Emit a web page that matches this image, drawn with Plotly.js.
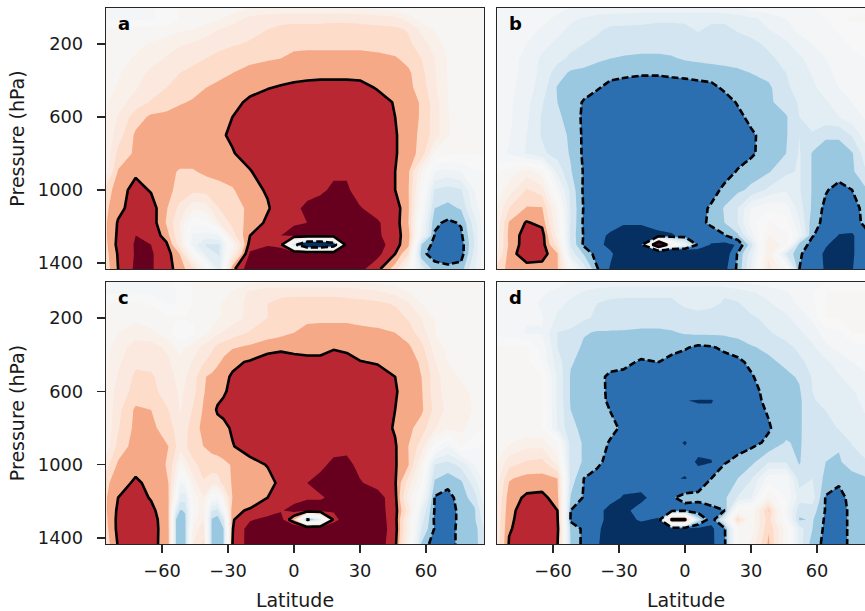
<!DOCTYPE html>
<html><head><meta charset="utf-8">
<script src="https://cdn.plot.ly/plotly-3.0.1.min.js"></script>
<style>html,body{margin:0;padding:0;background:#fff;overflow:hidden;width:865px;height:611px}</style>
</head><body><div id="chart"></div>
<script>
const latitudes=[-85.5,-80,-72,-65,-58,-52,-46,-40,-34,-28,-20,-12,-6,0,6,12,18,24,30,38,46,52,58,64,70,76,82,86.4];
const latitudesC=[-85.5,-80,-72,-65,-57.1,-53.6,-51.7,-49.5,-45.8,-41.2,-37.4,-34.8,-32.1,-28,-20,-12,-6,0,6,12,18,24,30,38,46,52,58,64,70,76,82,86.4];
const pressures=[3,60,120,200,280,360,440,520,600,700,800,900,1000,1100,1180,1250,1300,1350,1433];
const pressuresD=[3,60,120,200,280,360,440,520,600,650,800,880,985,1075,1180,1250,1300,1350,1433];
const xTicks=[-60,-30,0,30,60];
const yTicks=[200,600,1000,1400];
const panelLetters=['a','b','c','d'];
const bandColors=['#053061','#2b6fb0','#9ac8e0','#d3e5f0','#e3eef4','#ecf2f5','#f3f5f6','#f7f7f7','#f7f5f3','#f9f0ea','#fbe8de','#fddcc9','#f5a986','#b92732','#67001f'];
const panelA=[
[-.5,-.6,-.6,-.6,0,.6,.6,.6,.8,1,1.5,1.5,1.6,1.6,1.6,1.6,1.6,1.6,1.5,1.2,1,.8,.7,.6,.6,.6,.6,.6],
[-.6,-.7,-.7,-.6,-.3,.6,.8,1,1.4,2,2.8,3.1,3.2,3.2,3.2,3.2,3.3,3.3,3.2,3,2.8,2,1,.7,.6,.6,.6,.6],
[.6,.7,.8,.9,1,1.3,1.5,2,2.5,2.9,3.2,3.5,3.7,3.8,3.8,3.8,3.8,3.8,3.8,3.8,3.7,3.4,2.2,1.4,.8,.6,.6,.6],
[1,1,1.3,1.6,2,2.4,2.6,2.9,3.2,3.4,3.6,3.8,4,4.2,4.2,4.2,4.2,4.2,4.2,4.1,4,3.7,3,2,1.2,.8,.6,.5],
[1,1.2,1.6,2,2.6,3,3.2,3.5,3.8,4,4.2,4.4,4.5,4.8,4.9,4.9,4.9,4.9,4.9,4.8,4.6,4.2,3.5,2.5,1.4,.8,.6,.5],
[1,1.4,2,2.8,3.2,3.5,3.8,4,4.3,4.5,4.9,5,5,5,5.1,5.1,5.1,5.1,5.1,5,4.9,4.7,3.8,2.6,1.4,.8,.6,.5],
[1.2,1.6,2.4,3,3.5,3.9,4.2,4.5,4.7,4.9,5.2,5.45,5.6,5.8,5.9,6,6,6,5.9,5.4,5.3,4.8,4,2.7,1.5,.8,.6,.5],
[1.4,2,3,3.6,4,4.4,4.6,4.8,5,5.2,5.7,6,6.1,6.2,6.2,6.2,6.2,6.2,6.2,6,5.4,4.9,4.4,3,1.5,.8,.6,.5],
[1.6,2.6,4,4.7,4.8,4.9,5,5.1,5.3,5.5,5.8,6,6,6.1,6.1,6.1,6.1,6.1,6.1,6,5.5,4.9,4.4,3,1.6,.8,.6,.5],
[1.7,3,4.7,4.9,5,5.1,5.2,5.3,5.4,5.6,5.9,6,6,6.1,6.1,6.1,6.1,6.1,6.1,6,5.6,4.9,4.3,3,1.6,.8,.6,.5],
[1.8,3.8,4.7,5,5.1,5,5,5.1,5.3,5.45,5.8,6,6,6.1,6.1,6.1,6.1,6.1,6.1,6,5.6,4.9,4.2,1.2,.7,.6,.6,.5],
[2,4.6,5.3,5.3,4.8,4.4,4.4,4.7,4.8,5,5.45,5.9,6,6.2,6.3,6.3,6.3,6.4,6.4,6.1,5.5,4.7,1.5,-1.5,-1.8,-1.5,-.7,-.4],
[4,5,5.9,5.4,4.8,4.2,3.8,3.9,4.2,4.4,5.2,5.6,6,6.1,6.2,6.3,6.7,6.6,6.2,6,5.5,4.6,.8,-3.6,-3.9,-3.6,-1.5,-.8],
[4.3,5.2,6,6,4.6,3.2,1.8,2,3.5,4.1,4.7,5.4,6,6.3,6.7,7,7.2,7.2,6.55,6.2,6,4.7,0,-4.5,-4.8,-4.4,-2,-.8],
[4.4,5.6,6.2,6.1,4.4,2.5,-.3,0,2.5,3.8,4.9,5.7,6.1,6.3,6.5,7.1,7.3,7.3,7.1,6.6,6,4.5,-1,-5.3,-5.7,-5.4,-3,-.8],
[4.4,5.7,6.5,6.3,5,2.6,-1.7,-2,-1.5,3,5.5,6,6.5,7.2,7.2,7.2,7.1,7.1,7.1,6.7,5.8,5.1,-1.5,-5.6,-6,-5.7,-3.4,-.8],
[4.3,5.8,6.6,6.5,5.7,3,-2,-3.6,-3.6,1,6,6.4,6.2,-4,-12,-12,-9,7.5,7.2,7,5.9,4.8,-4.5,-5.9,-6.2,-6,-3.5,-.8],
[4.2,5.6,6.6,6.6,6,4.5,.6,-3,-3.6,2,6.7,7.1,7.1,9,10,10,9,7.2,7.1,6.8,5.5,3.5,-5.2,-6,-6.2,-6,-3.2,-.8],
[4,5.5,6.7,6.6,6,5,3.8,1,-3,5.2,7.2,7.2,7.2,7.2,7.2,7.2,7.2,7.2,6.8,5.8,4,1,-3,-5,-5.2,-5,-2.6,-.8]
];
const panelB=[
[-.6,-.6,-.8,-1,-1.2,-1.5,-1.6,-1.7,-1.8,-1.8,-1.9,-1.9,-1.9,-1.9,-1.9,-1.9,-1.7,-1.5,-1,-.8,-.7,-.6,-.5,-.3,-.2,-.2,0,.1],
[-.7,-.8,-1,-1.2,-1.7,-2.3,-2.6,-2.9,-3,-3.1,-3.2,-3.3,-3.3,-3.3,-3.3,-3.3,-3.3,-3,-2.7,-2.2,-1.5,-1,-.8,-.5,.3,.7,.8,.8],
[-.8,-.9,-1.2,-1.6,-2.2,-2.7,-3,-3.3,-3.7,-3.7,-3.7,-3.8,-3.8,-3.7,-3.4,-3.7,-3.7,-3.4,-3.1,-2.5,-1.9,-1.2,-1,-.7,-.4,-.2,.1,.2],
[-.8,-1,-1.5,-2.2,-2.7,-3.2,-3.5,-3.8,-4,-4.1,-4.1,-4.1,-4.1,-4.1,-3.9,-3.9,-3.9,-3.9,-3.8,-3.3,-2.7,-2,-1.5,-1,-.7,-.4,-.2,-.1],
[-.8,-1.1,-1.8,-2.7,-3.2,-3.7,-4,-4.3,-4.5,-4.6,-4.7,-4.7,-4.6,-4.4,-4.3,-4.2,-4.1,-4.1,-4,-3.7,-3.2,-2.7,-2,-1.5,-1,-.7,-.5,-.4],
[-.8,-1.1,-1.9,-2.8,-4,-4.7,-4.8,-5,-5.2,-5.3,-5.4,-5.4,-5.3,-5.2,-5.1,-5,-4.9,-4.7,-4.5,-4.2,-3.5,-3,-2.4,-1.8,-1.2,-.9,-.7,-.6],
[-.9,-1.2,-2,-3,-4.6,-4.9,-5.1,-5.4,-5.8,-5.9,-6,-6,-6,-6,-5.9,-5.8,-5.3,-5.2,-5,-4.7,-3.7,-3.1,-2.7,-2.1,-1.5,-1.1,-.9,-.8],
[-.9,-1.3,-2.2,-3.4,-4.5,-5,-5.6,-6,-6.1,-6.1,-6.1,-6.1,-6.1,-6.1,-6.1,-6.1,-6,-5.4,-5,-4.7,-4,-3.4,-3,-2.6,-2.1,-1.5,-1.1,-1],
[-1,-1.3,-2.3,-3.6,-4.3,-4.9,-5.7,-6,-6.1,-6.1,-6.1,-6.1,-6.1,-6.1,-6.1,-6.1,-6,-5.8,-5.2,-4.9,-4.6,-3.5,-3.1,-2.8,-2.5,-1.9,-1.4,-1.3],
[-1.1,-1.4,-2.5,-3.6,-4,-4.7,-5.7,-6,-6.1,-6.1,-6.1,-6.1,-6.1,-6.1,-6.1,-6.1,-6.1,-6,-5.7,-5,-4.6,-3.5,-3.6,-4.4,-4.4,-3.4,-2,-1.6],
[-1.1,-1.6,-2.6,-3.3,-3.9,-4.6,-5.7,-6,-6.1,-6.1,-6.1,-6.1,-6.1,-6.1,-6.1,-6.1,-6.1,-6,-5.7,-4.9,-4.5,-3.4,-4.6,-4.8,-4.8,-4.6,-3,-2],
[.4,1,2,1,-2.8,-4.4,-5.6,-6,-6.1,-6.1,-6.1,-6.1,-6.1,-6.1,-6.1,-6.1,-6,-5.4,-4.9,-4.6,-3.7,-3.4,-4.6,-4.9,-5,-4.7,-3.6,-2.6],
[1,2,3.6,3,-1,-3.8,-5.7,-6,-6.1,-6.1,-6.1,-6.1,-6.1,-6.1,-6.1,-6,-5.2,-4.7,-4.3,-3.3,-2.6,-3.4,-4.6,-5.4,-5.9,-5.5,-4.7,-3],
[1.5,3.5,4.6,4.6,1,-3.6,-5.6,-6,-6.1,-6.1,-6.1,-6.1,-6.1,-6.1,-6,-5.3,-4.4,-3.5,-1.5,-.6,-1,-3,-4.7,-5.8,-6.1,-5.9,-5.2,-3.5],
[1.8,4.6,5.6,5.2,1.5,-3.6,-5.7,-6,-6,-6.4,-6.4,-6.2,-6.1,-6,-5.8,-5.3,-4.5,-3.5,-1,.6,0,-2.4,-5.1,-5.8,-6.1,-6.1,-5.2,-4],
[2,4.8,6,6,2,-3.8,-5.6,-6.1,-6.7,-7,-7,-6.7,-6.6,-6.2,-6,-6,-5.6,-4.7,-2,1.5,.8,-1.6,-5.45,-5.9,-6.55,-6.6,-6,-4.5],
[2,4.7,6.1,6,3,-3.6,-5.7,-6.2,-6.8,-7,-6.5,12,2,-2,-5.8,-6.6,-6.8,-6.4,-4,2.5,1,-5,-5.8,-6.4,-6.9,-6.6,-6,-5],
[2.2,5,6.2,6,4.6,-3,-4.6,-6,-6.3,-7.2,-12,-14,-14,-10,-7.3,-7.3,-7.2,-5.4,-3,2.2,-3.5,-5.4,-5.9,-6.7,-7,-6.6,-6,-5],
[3.9,4.8,5,5,4.6,.5,-3,-5.4,-6.6,-7.2,-7.2,-7.2,-7.2,-7.2,-7.2,-7.2,-6.8,-5.3,-2.5,3,.5,-5.5,-6,-6.6,-7,-6.55,-5.8,-5]
];
const panelC=[
[-.6,-.6,-.7,-.8,-.7,-.2,0,.2,.6,.6,.65,.7,.8,1,1.4,1.6,1.6,1.6,1.6,1.6,1.6,1.6,1.5,1.3,1,.8,.7,.6,.6,.6,.6,.6],
[-.6,-.7,-.8,-.8,-.8,-.5,-.3,0,.6,.7,.8,1,1.2,1.6,2.7,3.2,3.3,3.3,3.3,3.3,3.3,3.2,3,2.7,2.2,1.6,1,.7,.6,.6,.6,.6],
[.5,.6,.6,.4,-.5,-.5,-.4,0,.6,.8,1,1.3,1.6,2,2.8,3.5,3.7,3.8,3.8,3.8,3.8,3.8,3.8,3.7,3.4,2.6,1.5,.9,.6,.6,.6,.5],
[.9,1,1.3,1,.7,.6,.6,.6,.7,1,1.2,1.4,1.6,2,2.8,3.5,3.9,4.2,4.3,4.3,4.3,4.3,4.2,4.1,3.9,3.4,2.5,1.5,.8,.7,.6,.6],
[1,1.5,2,1.7,.9,-.3,-.5,-.4,.2,1.2,1.8,2.3,2.6,3,3.6,3.9,4.2,4.5,4.8,4.9,4.9,4.9,4.8,4.7,4.5,4,3,1.6,.8,.7,.6,.6],
[1.2,2,3,3,2.2,1.5,1.3,1.5,2,2.8,3.3,3.8,4.1,4.4,4.7,5.2,5.3,5.1,5,5,5.4,5.2,5,5,4.8,4.7,3.8,2.1,1.2,1,1,.6],
[1.3,2.3,3.3,3.3,2.7,1.9,1.7,2,2.6,3.4,3.9,4.3,4.7,5.3,5.6,5.9,6,6,5.9,5.9,6,6,5.55,5.4,5.1,4.8,4.4,2.6,1.5,1.2,1,.6],
[1.4,2.6,3.7,3.6,3.1,2.3,2,2.4,3,4.4,4.7,5,5.3,5.6,6,6,6.1,6.1,6.1,6.1,6.1,6.1,6.1,6,5.5,5,4.5,3,1.8,1.4,1.1,.7],
[1.5,3,3.8,3.7,3.2,2.6,2.3,2.6,3.2,4.4,5,5.2,5.4,5.7,6,6.1,6.1,6.1,6.1,6.1,6.1,6.1,6.1,6,5.6,5,4.6,3,2,1.9,1.2,.7],
[1.6,3.2,4.7,4.5,3.5,2.8,2.4,2.9,3.6,4.6,5.2,5.6,5.7,5.9,6,6.1,6.1,6.1,6.1,6.1,6.1,6.1,6.1,6,5.5,5,4.7,3.2,2.2,2.4,1.3,.7],
[1.7,3.4,4.8,4.7,4.1,3.2,3,3.2,4,4.8,5,5.2,5.3,5.6,6,6.1,6.1,6.1,6.1,6.1,6.1,6.1,6.1,6,5.4,4.8,4,2.6,1.7,1.8,1,.5],
[2,3.8,5,5,4.5,3.5,3,3.3,4.2,4.5,4.9,5,5.2,5.45,5.9,6,6.1,6.1,6.1,6.1,6.2,6.2,6.2,6,5.6,4.5,3,0,-1.5,.6,-.4,-.6],
[3,4.7,5.1,5,4.4,2.5,1,2,3.2,3.9,3.9,4,4.2,4.6,5.2,5.55,5.9,6,6.1,6.3,6.7,6.8,6.2,6,5.6,4.6,1.5,-3.5,-3.9,-3.2,-1.5,-1],
[4.3,5,5.7,5.2,4.5,1.5,-1.5,-1,2,3.4,3,3,3.8,4.6,5,5.2,5.7,6,6.5,6.8,7,6.9,6.6,6.1,5.6,3,.5,-4.7,-5.2,-4.7,-3,-1.5],
[4.4,5.5,6,5.4,4.6,0,-3,-3,.8,2.5,-.6,-1,1.5,4.5,5,5.5,6,6.1,6.4,6.4,6.7,6.7,6.8,7,5.8,2,-.5,-5.6,-5.9,-5,-4,-2],
[4.4,5.7,6.2,5.8,4.6,-3,-4.6,-4.4,.8,2,-3.4,-3.8,-1,5.3,5.6,6,6.4,6.9,7,7,6.7,6.9,6.9,7,5.9,3,-2.5,-5.6,-6,-5.2,-4.7,-2.6],
[4.3,5.8,6.2,6,4.7,-4.6,-5,-4.7,1,2.5,-4.6,-5,-3.6,5.4,6.4,6.8,7,4.5,-6,-3,5.8,7.6,7.1,7.1,5.9,2,-3,-5.7,-6,-5.2,-4.7,-3],
[4.2,5.8,6.1,6,4.8,-4.6,-5,-4.8,2,3,-4.7,-5,-4.6,5.45,7,7.1,7.3,8,8.5,8.5,8,7.3,7.2,7.1,6,2,-3.5,-5.6,-5.9,-5.2,-5,-3.5],
[4,5.6,6,5.9,4.9,-4.6,-5.1,-4.8,2.5,3.7,-4.7,-5,-4.6,5.5,7,7.1,7.1,7.1,7.1,7.1,7.1,7.1,7.1,7.1,5.8,1.5,-4.6,-6.2,-5.9,-5.2,-4.8,-4]
];
const panelD=[
[-.6,-.6,-.7,-.8,-1,-1.5,-1.7,-1.8,-1.9,-1.9,-1.9,-1.9,-1.9,-1.9,-1.9,-1.9,-1.7,-1.5,-1.2,-.8,-.7,-.6,-.5,-.5,-.5,-.5,-.5,-.5],
[-.7,-.7,-.8,-1.3,-1.9,-2.2,-2.6,-3,-3.2,-3.3,-3.3,-3.3,-3.3,-3.4,-3.3,-3.4,-3.4,-3,-2.6,-2.2,-1.6,-1,-.6,.5,.6,.6,.6,.6],
[-.8,-.8,-1,-1.7,-2.2,-2.7,-3,-3.5,-3.7,-3.7,-3.7,-3.7,-3.7,-3.3,-3.1,-3.3,-3.6,-3.6,-3,-2.6,-2,-1.3,-.7,.5,.6,.6,.6,.6],
[-.8,-.9,-1.4,-1.4,-2.7,-3,-3.3,-3.7,-3.9,-4,-4,-4,-4,-4,-3.9,-3.9,-3.8,-3.8,-3.7,-3.2,-2.7,-2,-1.3,.5,.6,.6,.6,.6],
[-.8,-1,-1.6,-1.6,-3.5,-3.7,-4.4,-4.6,-4.6,-4.6,-4.7,-4.7,-4.6,-4.4,-4.3,-4.3,-4.3,-4.1,-3.9,-3.6,-3.1,-2.7,-2,-1,-.6,.5,.6,.6],
[.6,.7,.7,-.8,-3.5,-4,-4.7,-4.8,-4.9,-5,-5.1,-5.2,-5.3,-5.4,-5.7,-5.6,-5.3,-5.1,-4.6,-4.3,-3.8,-3.3,-2.7,-1.7,-1.2,-1,-.8,-.7],
[.6,.8,.8,-.6,-3,-4.4,-4.8,-5,-5.1,-5.3,-5.6,-5.5,-5.7,-6,-6,-6,-5.9,-5.7,-5.3,-4.7,-4.3,-3.7,-3.2,-2.7,-2,-1.5,-1.1,-.9],
[.6,.9,1.2,.5,-2.7,-4.6,-4.8,-5.2,-5.7,-5.7,-5.8,-6,-6,-6,-6,-6,-6,-6,-5.6,-5,-4.7,-4.4,-3.4,-3,-2.6,-2,-1.7,-1.4],
[.6,.9,1.2,.6,-2.7,-4.6,-4.8,-5,-5.8,-6,-6,-6,-6,-6,-6,-6,-6,-6,-5.7,-5.3,-4.8,-4.6,-3.5,-3.1,-2.9,-2.6,-2.1,-1.8],
[.6,.8,1,.6,-2.7,-4.6,-4.8,-5.1,-5.7,-6,-6,-6.1,-6.2,-6.48,-6.55,-6.55,-6.2,-6.1,-5.8,-5.3,-4.9,-4.7,-3.6,-3.2,-3,-2.7,-2.3,-1.9],
[.5,.6,.7,.5,-2.5,-4.3,-4.7,-5,-5.2,-5.7,-6,-6,-6.1,-6.1,-6.1,-6.1,-6.1,-6.1,-6,-5.6,-4.9,-4.7,-3.6,-4,-3.4,-3,-2.7,-2.3],
[1,1.4,2,2,.6,-4,-4.6,-5,-5.6,-6,-6.1,-6.2,-6.3,-6.55,-6.2,-6.1,-6,-6,-5.8,-5.3,-4.4,-4.7,-3.5,-4.2,-4.4,-3.4,-3,-2.8],
[1.5,3,3.6,3.8,2,-4,-4.6,-5.3,-5.8,-6,-6.1,-6.1,-6.1,-6.2,-6.6,-6.55,-5.6,-5.2,-4.8,-3.6,-3.6,-4.6,-3.5,-4.5,-4.6,-4.1,-3.6,-3.3],
[2,4.4,4.8,4.8,4.5,-3.9,-5.5,-5.8,-6,-6,-6,-6.1,-6.4,-6.55,-6.2,-5.5,-4.8,-4.5,-3.6,-1,-.8,-4,-3.5,-4.8,-5.3,-4.8,-4.6,-3.9],
[2.5,5,5.7,5.8,5,-4.6,-5.6,-5.9,-6.1,-6.6,-6.7,-6.1,-5.6,-5.2,-5.2,-5,-4.7,-3.4,-2.6,1.5,-.5,-3,-3,-5.6,-5.8,-5.2,-4.7,-4],
[2.6,5.2,6,6,5.5,-5.5,-5.7,-6.1,-6.9,-6.7,-6.2,-6.1,-6.2,-5.9,-6.1,-5.8,-5.5,.6,.6,4.6,-1,-4.2,-4,-5.6,-6,-5.2,-4.7,-4],
[2.7,5.3,6,6,5.7,-5.7,-6,-6,-7,-6.8,-6.4,-6.6,6.3,6.2,-4,-6.2,-3,4,.8,4,-.5,-4.6,-4.4,-5.7,-6,-5.2,-4.8,-4.2],
[2.8,5.4,6,6.1,6,-4.9,-5.7,-6.3,-7,-6.9,-6.9,-7,-7,-7,-6.8,-6.7,-5.7,.6,.7,4.4,1,-3,-4.5,-5.8,-6,-5.2,-4.7,-4.4],
[2.9,5.6,6.4,6,5.6,-4.6,-5.8,-6.4,-7,-7,-7,-7,-7,-7,-7,-6.7,-5.8,.7,1.7,4.7,.8,-3,-5,-5.8,-6,-5.2,-4.6,-4.4]
];
const W=880,H=611;
const sides=[[106,484],[497,875]], heights=[[8,269],[282,544]];
const colorscale=bandColors.map((c,i)=>[i/(bandColors.length-1),c]);
const panels=[[panelA,pressures,latitudes],[panelB,pressures,latitudes],[panelC,pressures,latitudesC],[panelD,pressuresD,latitudes]];
const traces=[];
panels.forEach(([z,ys,xs],i)=>{
  const ax=i?String(i+1):'';
  const base={x:xs,y:ys,z:z,xaxis:'x'+ax,yaxis:'y'+ax,hoverinfo:'skip',showscale:false,type:'contour',autocontour:false};
  traces.push(Object.assign({},base,{colorscale:colorscale,zmin:-7,zmax:7,
    contours:{coloring:'fill',start:-6.5,end:6.5,size:1,showlines:false},line:{width:0,smoothing:0}}));
  traces.push(Object.assign({},base,{contours:{coloring:'none',start:5.5,end:5.5,size:1},line:{color:'#000',width:2.6,smoothing:0,dash:'solid'}}));
  traces.push(Object.assign({},base,{contours:{coloring:'none',start:-5.5,end:-5.5,size:1},line:{color:'#000',width:2.6,smoothing:0,dash:'7px,3px'}}));
});
const FS=17.8,TS=19;
const layout={width:W,height:H,margin:{l:0,r:0,t:0,b:0},paper_bgcolor:'#fff',plot_bgcolor:'#fff',showlegend:false,
  font:{family:'DejaVu Sans, sans-serif',size:FS,color:'#1a1a1a'},annotations:[]};
panelLetters.forEach((t,i)=>{
  const ax=i?String(i+1):'';
  const col=i%2,row=i>>1;
  const xd=[sides[col][0]/W,sides[col][1]/W], yd=[1-heights[row][1]/H,1-heights[row][0]/H];
  layout['xaxis'+ax]={domain:xd,range:[-85.5,86.4],anchor:'y'+ax,showgrid:false,zeroline:false,showline:true,mirror:true,linecolor:'#262626',linewidth:1.3,
    tickmode:'array',tickvals:row?xTicks:[],ticks:row?'outside':'',ticklen:8,tickcolor:'#262626',tickwidth:1.3,showticklabels:!!row,ticklabelstandoff:row?2:0,
    title:row?{text:'Latitude',standoff:14,font:{size:TS}}:undefined};
  layout['yaxis'+ax]={domain:yd,range:[1433,3],anchor:'x'+ax,showgrid:false,zeroline:false,showline:true,mirror:true,linecolor:'#262626',linewidth:1.3,
    tickmode:'array',tickvals:col?[]:yTicks,ticks:col?'':'outside',ticklen:8,tickcolor:'#262626',tickwidth:1.3,showticklabels:!col,ticklabelstandoff:col?0:10,
    title:col?undefined:{text:'Pressure (hPa)',standoff:8,font:{size:TS}}};
  layout.annotations.push({xref:'paper',yref:'paper',x:(sides[col][0]+10)/W,y:1-(heights[row][0]+15)/H,xanchor:'left',yanchor:'middle',
    text:'<b>'+t+'</b>',showarrow:false,font:{size:18,color:'#000'}});
});
Plotly.newPlot('chart',traces,layout,{displayModeBar:false,staticPlot:true});
</script></body></html>
